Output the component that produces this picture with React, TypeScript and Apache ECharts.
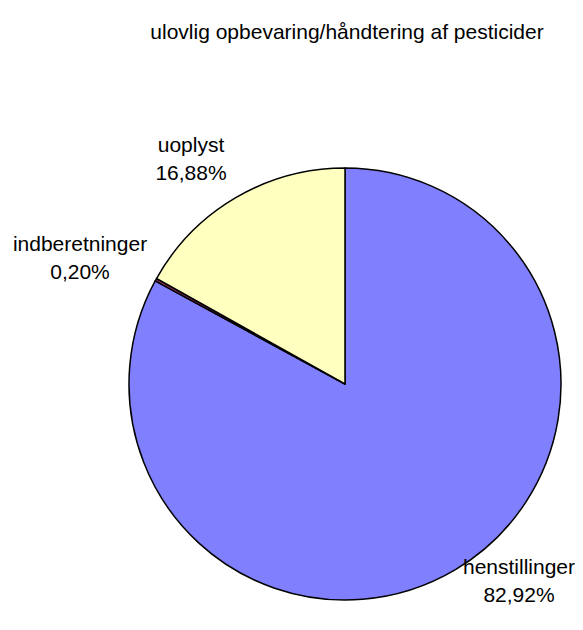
import React, { useEffect, useRef } from "react";
import * as echarts from "echarts";

const categories = ["henstillinger", "indberetninger", "uoplyst"];
const values = [82.92, 0.2, 16.88];
const colors = ["#8080FF", "#993366", "#FFFFC0"];
const labelPos: [number, number][] = [
  [519, 580],
  [80, 257],
  [191, 158],
];

export default function App() {
  const ref = useRef<HTMLDivElement>(null);
  useEffect(() => {
    document.body.style.margin = "0";
    const chart = echarts.init(ref.current!, null, { renderer: "svg" });
    chart.setOption({
      animation: false,
      backgroundColor: "#ffffff",
      title: {
        text: "ulovlig opbevaring/håndtering af pesticider",
        left: 347,
        top: 21,
        textAlign: "center",
        padding: 0,
        textStyle: {
          fontFamily: "Liberation Sans, Arial, sans-serif",
          fontSize: 21,
          fontWeight: "normal",
          color: "#000",
        },
      },
      series: [
        {
          type: "pie",
          center: [345, 384],
          radius: [0, 216],
          startAngle: 90,
          clockwise: true,
          data: categories.map((c, i) => ({
            name: c,
            value: values[i],
            itemStyle: { color: colors[i] },
          })),
          itemStyle: { borderColor: "#000", borderWidth: 1.5 },
          label: {
            show: true,
            position: "outside",
            formatter: (p: any) =>
              p.name + "\n" + p.value.toFixed(2).replace(".", ",") + "%",
            fontFamily: "Liberation Sans, Arial, sans-serif",
            fontSize: 21,
            lineHeight: 28,
            color: "#000",
            align: "center",
            overflow: "none",
          },
          labelLine: { show: false },
          labelLayout: (params: any) => {
            const p = labelPos[params.dataIndex];
            return { x: p[0], y: p[1], align: "center", verticalAlign: "middle", width: 200 };
          },
        },
      ],
    });
    return () => chart.dispose();
  }, []);
  return <div ref={ref} style={{ width: 583, height: 630 }} />;
}
